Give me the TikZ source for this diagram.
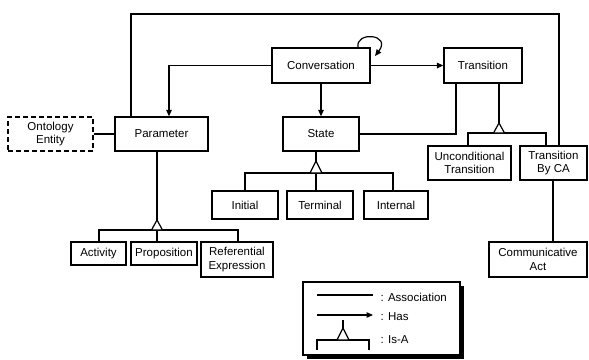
\documentclass[tikz,border=0pt]{standalone}
\usepackage{fontspec}
\setmainfont{Liberation Sans}
\usetikzlibrary{arrows.meta,calc}
\begin{document}
\begin{tikzpicture}[x=1pt,y=-1pt,
  font=\fontsize{11.5}{13.5}\selectfont,
  line width=1.2pt,
  box/.style={draw, line width=1.3pt, align=center, inner sep=1pt, fill=white},
  has/.style={-{Triangle[length=6.5pt,width=5.5pt]}},
  isatri/.style={draw, fill=white, line width=1.2pt}
]
\useasboundingbox (0,0) rectangle (589,359);

% boxes
\node[box, minimum width=98pt, minimum height=35pt] (conv) at (321,65.5) {Conversation};
\node[box, minimum width=78pt, minimum height=35pt] (trans) at (483,65.5) {Transition};
\node[box, minimum width=93pt, minimum height=34pt] (param) at (161.5,134) {Parameter};
\node[box, dash pattern=on 5pt off 3pt, minimum width=85pt, minimum height=34pt] (onto) at (50.5,134) {Ontology\\Entity};
\node[box, minimum width=76pt, minimum height=34pt] (state) at (321,134) {State};
\node[box, minimum width=83pt, minimum height=34pt] (uncond) at (469.5,163) {Unconditional\\Transition};
\node[box, minimum width=67pt, minimum height=34pt] (tbca) at (553.5,163) {Transition\\By CA};
\node[box, minimum width=98pt, minimum height=35pt] (ca) at (538,259.5) {Communicative\\Act};
\node[box, minimum width=66pt, minimum height=28pt] (initial) at (245,205) {Initial};
\node[box, minimum width=66pt, minimum height=28pt] (terminal) at (320,205) {Terminal};
\node[box, minimum width=64pt, minimum height=28pt] (internal) at (396,205) {Internal};
\node[box, minimum width=55pt, minimum height=23pt] (activity) at (98.5,253.5) {Activity};
\node[box, minimum width=66pt, minimum height=23pt] (prop) at (164,253.5) {Proposition};
\node[box, minimum width=72pt, minimum height=35pt] (refexp) at (237,259.5) {Referential\\Expression};

% has connectors
\draw[has] (conv.west) -| (param.north -| 169,0);
\draw[has] (conv.south) -- (state.north);
\draw[has] (conv.east) -- (trans.west);
\coordinate (loopend) at (375,56);
\draw[has] ([xshift=37pt]conv.north) .. controls (355,31) and (392,34) .. (loopend);

% associations
\coordinate (topL) at (131,14);
\coordinate (topR) at (559,14);
\draw (param.north -| topL) -- (topL) -- (topR) -- (tbca.north -| topR);
\draw (trans.south -| 456,0) |- (state.east);
\draw (onto.east) -- (param.west);
\draw (tbca.south -| 553,0) -- (ca.north -| 553,0);

% is-a: transition
\coordinate (tapex) at (499,123);
\draw (trans.south -| tapex) -- (tapex);
\draw (uncond.north -| 468,0) -- (468,133) -- (546,133) -- (tbca.north -| 546,0);
\draw[isatri] (tapex) -- ++(5.5,10) -- ++(-11,0) -- cycle;

% is-a: parameter
\coordinate (papex) at (157,220);
\draw (param.south -| papex) -- (papex);
\draw (activity.north -| 99,0) -- (99,230) -- (238,230) -- (refexp.north -| 238,0);
\draw (157,230) -- (prop.north -| 157,0);
\draw[isatri] (papex) -- ++(5.5,10) -- ++(-11,0) -- cycle;

% is-a: state
\coordinate (sapex) at (316,161);
\draw (state.south -| sapex) -- (sapex);
\draw (initial.north -| 245,0) -- (245,173) -- (393,173) -- (internal.north -| 393,0);
\draw (316,173) -- (terminal.north -| 316,0);
\draw[isatri] (sapex) -- ++(6,12) -- ++(-12,0) -- cycle;

% legend
\fill[black] (306.5,285.5) rectangle (463.5,358.5);
\node[draw, fill=white, line width=1.2pt, minimum width=157pt, minimum height=73pt, inner sep=0pt] (legend) at (381.5,318.5) {};
\coordinate (la1) at (317,295);
\coordinate (la2) at (373,295);
\draw (la1) -- (la2);
\node[anchor=west, inner sep=0pt] (lassoc) at (380,297) {: Association};
\coordinate (lh1) at (317,315);
\coordinate (lh2) at (373,315);
\draw[has] (lh1) -- (lh2);
\node[anchor=west, inner sep=0pt] (lhas) at (380,317) {: Has};
\coordinate (lapex) at (343,328);
\draw (343,320) -- (lapex);
\draw (317,350) -- (317,340) -- (369,340) -- (369,350);
\draw[isatri] (lapex) -- ++(6,12) -- ++(-12,0) -- cycle;
\node[anchor=west, inner sep=0pt] (lisa) at (380,340) {: Is-A};
\end{tikzpicture}
\end{document}
